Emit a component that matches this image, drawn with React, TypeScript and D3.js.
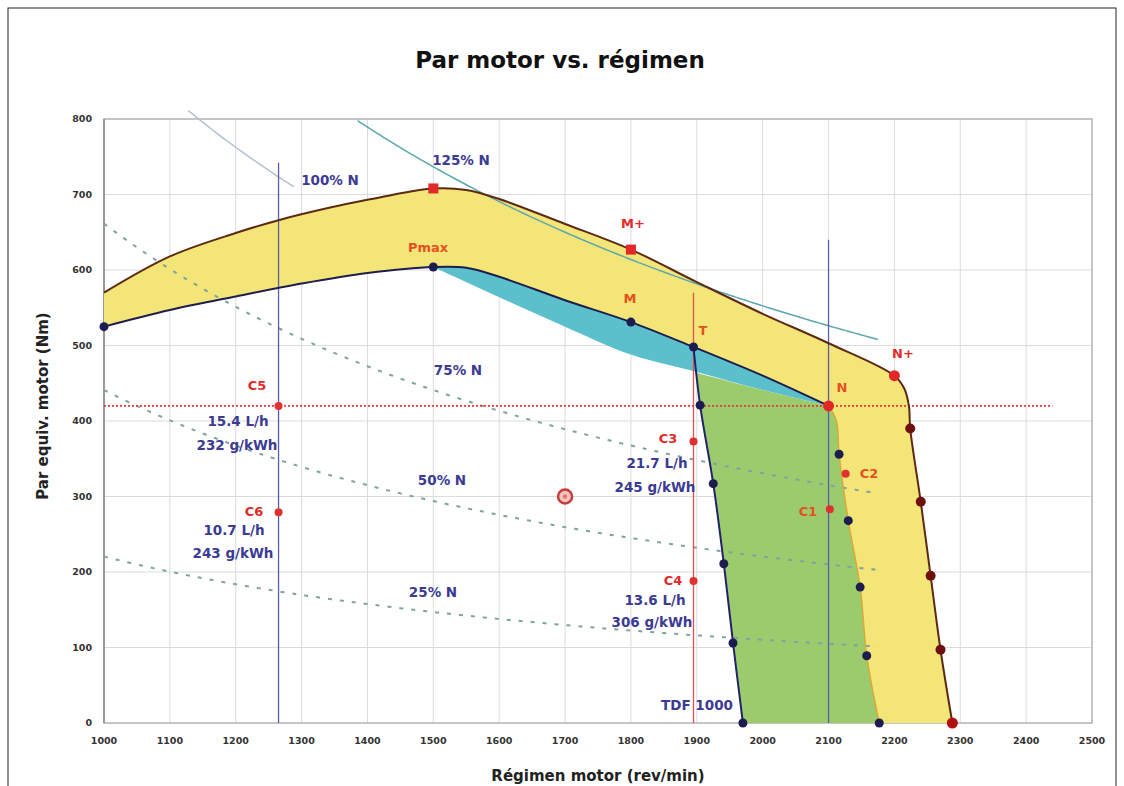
import * as d3 from 'd3';
import React from 'react';

const W = 1124;
const H = 786;

// envelope with boost (upper curve + boost governor)
const boostCurve: [number, number][] = [
  [1000, 570], [1100, 618], [1200, 649], [1265, 666], [1340, 682], [1400, 693],
  [1500, 708], [1550, 706], [1600, 694], [1700, 661], [1800, 627], [1900, 584],
  [2000, 542], [2100, 503], [2200, 460], [2215, 443], [2222, 420], [2224, 390],
  [2240, 293], [2255, 195], [2270, 97], [2288, 0],
];
// nominal full-load curve
const nominalCurve: [number, number][] = [
  [1000, 525], [1100, 547], [1200, 565], [1300, 582], [1400, 596], [1500, 604],
  [1550, 603], [1600, 591], [1700, 560], [1800, 531], [1895, 498], [2000, 460],
  [2100, 420],
];
const nominalGovernor: [number, number][] = [
  [2100, 420], [2112, 400], [2116, 356], [2130, 268], [2148, 180], [2158, 89], [2177, 0],
];
const cyanLower: [number, number][] = [
  [1500, 604], [1600, 564], [1700, 525], [1800, 488], [1900, 465], [2000, 441], [2100, 420],
];
const tdfLine: [number, number][] = [
  [1895, 498], [1905, 421], [1925, 317], [1941, 211], [1955, 106], [1970, 0],
];

// constant power curves (rpm * Nm)
const powerLevels = [
  { label: '75% N', k: 661500, from: 1000, to: 2175 },
  { label: '50% N', k: 441000, from: 1000, to: 2175 },
  { label: '25% N', k: 220500, from: 1000, to: 2175 },
];
const power100 = { k: 915000, from: 1128, to: 1290 };
const power125 = { k: 1105000, from: 1385, to: 2175 };

const navyDots: [number, number][] = [
  [1000, 525], [1500, 604], [1800, 531], [1895, 498],
  [1905, 421], [1925, 317], [1941, 211], [1955, 106], [1970, 0],
  [2116, 356], [2130, 268], [2148, 180], [2158, 89], [2177, 0],
];
const brownDots: [number, number][] = [[2224, 390], [2240, 293], [2255, 195], [2270, 97]];
const redSquares: [number, number][] = [[1500, 708], [1800, 627]];
const redBig: [number, number][] = [[2200, 460], [2100, 420], [2288, 0]];
const redSmall: [number, number][] = [
  [1265, 420], [1265, 279], [1895, 373], [1895, 188], [2102, 283], [2126, 330],
];

const pointLabels = [
  { t: 'Pmax', x: 428, y: 247, c: '#e4501e' },
  { t: 'M+', x: 633, y: 223, c: '#e22a2a' },
  { t: 'M', x: 630, y: 298, c: '#e4501e' },
  { t: 'T', x: 703, y: 330, c: '#e4501e' },
  { t: 'N', x: 842, y: 387, c: '#e4501e' },
  { t: 'N+', x: 903, y: 353, c: '#e22a2a' },
  { t: 'C5', x: 257, y: 385, c: '#e22a2a' },
  { t: 'C6', x: 254, y: 511, c: '#e22a2a' },
  { t: 'C3', x: 668, y: 438, c: '#e22a2a' },
  { t: 'C4', x: 673, y: 580, c: '#e22a2a' },
  { t: 'C1', x: 808, y: 511, c: '#e4501e' },
  { t: 'C2', x: 869, y: 473, c: '#e4501e' },
];
const blueLabels = [
  { t: '100% N', x: 330, y: 180 },
  { t: '125% N', x: 461, y: 160 },
  { t: '75% N', x: 458, y: 370 },
  { t: '50% N', x: 442, y: 480 },
  { t: '25% N', x: 433, y: 592 },
  { t: '15.4 L/h', x: 238, y: 421 },
  { t: '232 g/kWh', x: 237, y: 445 },
  { t: '10.7 L/h', x: 234, y: 530 },
  { t: '243 g/kWh', x: 233, y: 553 },
  { t: '21.7 L/h', x: 657, y: 463 },
  { t: '245 g/kWh', x: 655, y: 487 },
  { t: '13.6 L/h', x: 655, y: 600 },
  { t: '306 g/kWh', x: 652, y: 622 },
  { t: 'TDF 1000', x: 697, y: 705 },
];

const xTicks = d3.range(1000, 2501, 100);
const yTicks = d3.range(0, 801, 100);

const FONT = '"DejaVu Sans", "Liberation Sans", Arial, sans-serif';

export default function App() {
  const x = d3.scaleLinear().domain([1000, 2500]).range([104, 1092]);
  const y = d3.scaleLinear().domain([0, 800]).range([723, 119]);

  const line = d3.line<[number, number]>()
    .x(d => x(d[0]))
    .y(d => y(d[1]))
    .curve(d3.curveCatmullRom.alpha(0.5));
  const seg = (pts: [number, number][]) => (line(pts) || '').replace(/^M/, 'L');
  const rev = (pts: [number, number][]) => pts.slice().reverse();

  const yellowPath = line(boostCurve)! +
    `L${x(2177)},${y(0)}` + seg(rev(nominalGovernor)) + seg(rev(nominalCurve)) + 'Z';

  const nomFrom1500 = nominalCurve.filter(d => d[0] >= 1500);
  const cyanPath = line(nomFrom1500)! + seg(rev(cyanLower)) + 'Z';

  const greenTop: [number, number][] = [[1899.5, 464], [2000, 441], [2100, 420]];
  const greenLeft: [number, number][] = [[1970, 0], [1955, 106], [1941, 211], [1925, 317], [1905, 421], [1899.5, 464]];
  const greenPath = line(greenTop)! + seg(nominalGovernor) + `L${x(1970)},${y(0)}` + seg(greenLeft) + 'Z';

  const hyper = (k: number, from: number, to: number) => {
    const pts: [number, number][] = d3.range(from, to + 1, 5).map(r => [r, k / r]);
    return d3.line<[number, number]>().x(d => x(d[0])).y(d => y(d[1]))(pts) || '';
  };

  return (
    <svg width={W} height={H} style={{ position: 'absolute', left: 0, top: 0, background: '#fff' }}>
      <rect x={8} y={8} width={1108} height={800} fill="#fff" stroke="#222" strokeWidth={1} />

      <text x={560} y={68} textAnchor="middle" fontFamily={FONT} fontWeight="bold" fontSize={23} fill="#111">
        Par motor vs. régimen
      </text>

      {/* grid */}
      {xTicks.map(t => (
        <line key={'gx' + t} x1={x(t)} x2={x(t)} y1={y(0)} y2={y(800)} stroke="#dcdcdc" strokeWidth={1} />
      ))}
      {yTicks.map(t => (
        <line key={'gy' + t} x1={x(1000)} x2={x(2500)} y1={y(t)} y2={y(t)} stroke="#dcdcdc" strokeWidth={1} />
      ))}
      <rect x={x(1000)} y={y(800)} width={x(2500) - x(1000)} height={y(0) - y(800)} fill="none" stroke="#b8b8b8" strokeWidth={1.5} />
      <line x1={x(1000)} x2={x(1000)} y1={y(0)} y2={y(800)} stroke="#8a8a8a" strokeWidth={1.5} />

      {/* fills */}
      <path d={yellowPath} fill="#f4e578" />
      <path d={cyanPath} fill="#5cc0cc" />
      <path d={greenPath} fill="#9bcb6c" />

      {/* constant power curves */}
      {powerLevels.map(p => (
        <path key={p.label} d={hyper(p.k, p.from, p.to)} fill="none" stroke="#7fa3a0" strokeWidth={2} strokeDasharray="4,8" />
      ))}
      <path d={hyper(power100.k, power100.from, power100.to)} fill="none" stroke="#b4c0d2" strokeWidth={1.5} />
      <path d={hyper(power125.k, power125.from, power125.to)} fill="none" stroke="#5aa7b0" strokeWidth={1.5} />

      {/* reference lines */}
      <line x1={x(1265)} x2={x(1265)} y1={y(742)} y2={y(0)} stroke="#5c5ca8" strokeWidth={1.3} />
      <line x1={x(2100)} x2={x(2100)} y1={y(640)} y2={y(0)} stroke="#5c5ca8" strokeWidth={1.3} />
      <line x1={x(1895)} x2={x(1895)} y1={y(570)} y2={y(0)} stroke="#e85050" strokeWidth={1.3} />
      <line x1={x(1000)} x2={x(2440)} y1={y(420)} y2={y(420)} stroke="#e83838" strokeWidth={1.6} strokeDasharray="2,2" />

      {/* curves */}
      <path d={line(nominalGovernor)!} fill="none" stroke="#d9aa3a" strokeWidth={1.5} />
      <path d={line(boostCurve)!} fill="none" stroke="#5c2a12" strokeWidth={2} />
      <path d={line(nominalCurve)!} fill="none" stroke="#1e1e4e" strokeWidth={2} />
      <path d={line(tdfLine)!} fill="none" stroke="#22226a" strokeWidth={2} />

      {/* points */}
      {navyDots.map((d, i) => (
        <circle key={'n' + i} cx={x(d[0])} cy={y(d[1])} r={4.5} fill="#1c1c50" />
      ))}
      {brownDots.map((d, i) => (
        <circle key={'b' + i} cx={x(d[0])} cy={y(d[1])} r={5} fill="#6e1010" />
      ))}
      {redSquares.map((d, i) => (
        <rect key={'s' + i} x={x(d[0]) - 5} y={y(d[1]) - 5} width={10} height={10} fill="#e02828" />
      ))}
      {redBig.map((d, i) => (
        <circle key={'r' + i} cx={x(d[0])} cy={y(d[1])} r={5.5} fill={i === 2 ? '#b01010' : '#e02828'} />
      ))}
      {redSmall.map((d, i) => (
        <circle key={'c' + i} cx={x(d[0])} cy={y(d[1])} r={4} fill="#e03030" />
      ))}
      <circle cx={x(1700)} cy={y(300)} r={7} fill="#f6c4bc" stroke="#c43c3c" strokeWidth={2.5} />
      <circle cx={x(1700)} cy={y(300)} r={2.2} fill="#e07a70" />

      {/* labels */}
      {pointLabels.map(l => (
        <text key={l.t} x={l.x} y={l.y} dy="0.35em" textAnchor="middle" fontFamily={FONT} fontWeight="bold" fontSize={13} fill={l.c}>
          {l.t}
        </text>
      ))}
      {blueLabels.map(l => (
        <text key={l.t} x={l.x} y={l.y} dy="0.35em" textAnchor="middle" fontFamily={FONT} fontWeight="bold" fontSize={13.5} fill="#3b3b94">
          {l.t}
        </text>
      ))}

      {/* axes labels */}
      {xTicks.map(t => (
        <text key={'tx' + t} x={x(t)} y={744} textAnchor="middle" fontFamily={FONT} fontWeight="bold" fontSize={9.5} fill="#333">
          {t}
        </text>
      ))}
      {yTicks.map(t => (
        <text key={'ty' + t} x={92} y={y(t)} dy="0.35em" textAnchor="end" fontFamily={FONT} fontWeight="bold" fontSize={9.5} fill="#333">
          {t}
        </text>
      ))}
      <text x={598} y={781} textAnchor="middle" fontFamily={FONT} fontWeight="bold" fontSize={15} fill="#222">
        Régimen motor (rev/min)
      </text>
      <text transform={`translate(48,406) rotate(-90)`} textAnchor="middle" fontFamily={FONT} fontWeight="bold" fontSize={15} fill="#222">
        Par equiv. motor (Nm)
      </text>
    </svg>
  );
}
